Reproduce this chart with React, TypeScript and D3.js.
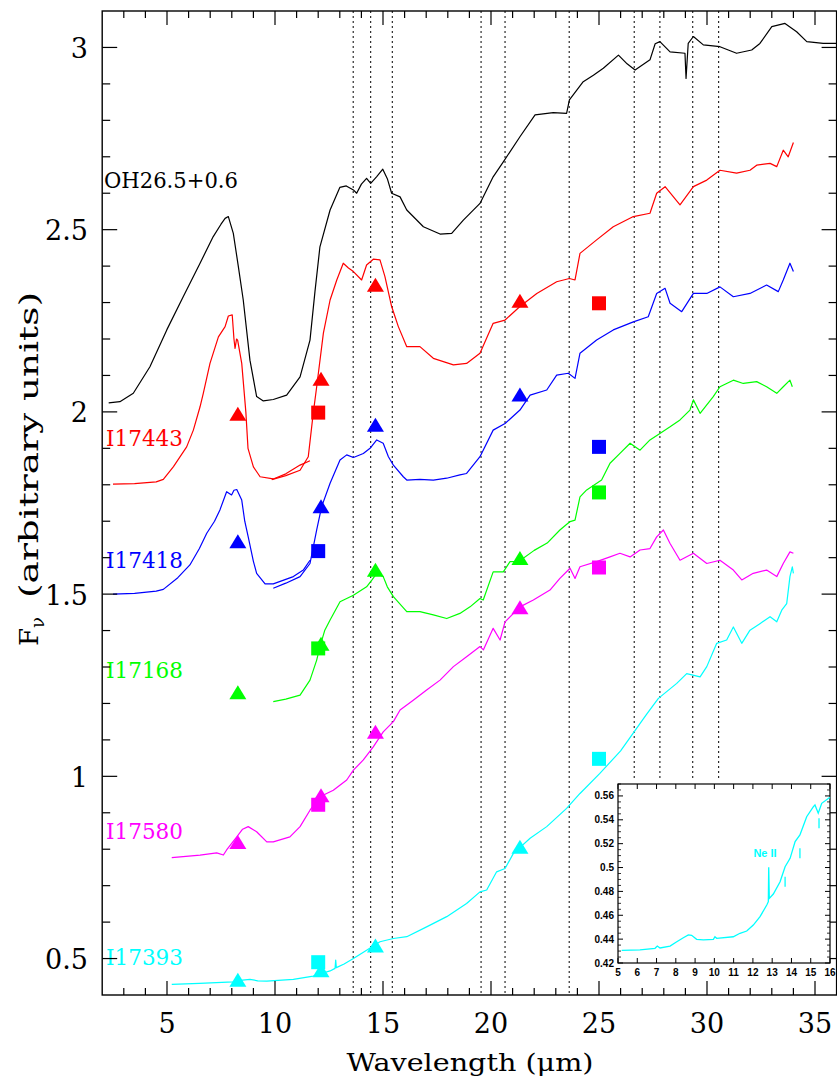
import React from "react";
import * as d3 from "d3";

// ---------- DATA ----------
const blackSpec: number[][] = [
  [2.3,2.025],[2.82,2.028],[3.44,2.051],[4.21,2.124],[4.99,2.225],[5.75,2.316],[6.53,2.408],[7.14,2.481],[7.5,2.515],[7.69,2.531],[7.84,2.536],[8.07,2.49],[8.3,2.4],[8.53,2.307],[8.84,2.142],[9.15,2.042],[9.46,2.03],[9.92,2.034],[10.54,2.046],[11.16,2.096],[11.62,2.197],[11.85,2.33],[12.08,2.453],[12.55,2.554],[13.0,2.616],[13.3,2.62],[13.63,2.609],[13.78,2.6],[14.0,2.625],[14.24,2.641],[14.43,2.627],[14.7,2.645],[14.99,2.666],[15.2,2.64],[15.4,2.6],[15.79,2.59],[16.1,2.554],[16.87,2.508],[17.64,2.488],[18.18,2.49],[18.72,2.526],[19.49,2.572],[20.1,2.645],[20.57,2.686],[21.34,2.755],[22.04,2.815],[22.88,2.821],[23.5,2.819],[23.63,2.856],[24.27,2.906],[24.74,2.924],[25.2,2.943],[25.9,2.979],[26.3,2.955],[26.67,2.938],[27.36,2.966],[27.6,3.01],[27.82,3.016],[28.29,2.988],[28.98,2.984],[29.03,2.915],[29.13,3.011],[29.37,3.03],[29.83,3.007],[30.6,3.002],[31.37,2.984],[32.07,2.993],[32.45,3.011],[33.0,3.057],[33.61,3.066],[34.15,3.043],[34.62,3.016],[35.38,3.011],[36.0,3.011]
];
const redShort: number[][] = [
  [2.5,1.802],[3.5,1.803],[4.5,1.808],[4.83,1.815],[5.3,1.85],[5.91,1.904],[6.22,1.95],[6.53,2.014],[6.68,2.051],[6.99,2.133],[7.38,2.206],[7.69,2.234],[7.84,2.263],[8.02,2.266],[8.1,2.2],[8.15,2.174],[8.22,2.2],[8.27,2.197],[8.46,2.133],[8.65,2.0],[8.75,1.9],[9.0,1.849],[9.31,1.822],[9.92,1.816],[10.5,1.83],[11.16,1.854],[11.62,1.866]
];
const redLong: number[][] = [
  [9.85,1.814],[10.5,1.825],[11.16,1.84],[11.54,1.877],[11.77,1.996],[11.93,2.069],[12.24,2.216],[12.55,2.307],[12.86,2.362],[13.16,2.408],[13.4,2.395],[13.63,2.385],[14.01,2.362],[14.24,2.403],[14.55,2.419],[14.86,2.417],[15.09,2.371],[15.4,2.289],[15.71,2.234],[16.1,2.179],[16.71,2.179],[17.33,2.147],[18.26,2.129],[18.87,2.133],[19.49,2.161],[20.1,2.243],[20.65,2.252],[21.34,2.289],[22.12,2.325],[23.04,2.357],[23.63,2.366],[23.89,2.362],[24.12,2.435],[24.89,2.472],[25.66,2.508],[26.59,2.536],[27.36,2.545],[27.67,2.6],[28.06,2.618],[28.75,2.568],[29.37,2.618],[29.99,2.636],[30.6,2.663],[31.37,2.655],[31.99,2.663],[32.3,2.677],[32.92,2.682],[33.23,2.673],[33.53,2.718],[33.76,2.7],[34.0,2.739]
];
const blueShort: number[][] = [
  [2.5,1.5],[3.5,1.502],[4.5,1.508],[4.83,1.513],[5.5,1.545],[6.06,1.58],[6.5,1.625],[6.84,1.667],[7.2,1.7],[7.45,1.731],[7.76,1.781],[7.99,1.772],[8.1,1.785],[8.23,1.787],[8.46,1.758],[8.6,1.7],[8.76,1.657],[9.0,1.59],[9.15,1.557],[9.54,1.528],[9.92,1.528],[10.85,1.548],[11.31,1.566],[11.62,1.593]
];
const blueLong: number[][] = [
  [9.92,1.516],[10.5,1.53],[11.16,1.548],[11.62,1.584],[11.93,1.676],[12.16,1.74],[12.55,1.804],[13.01,1.868],[13.32,1.882],[13.63,1.875],[14.09,1.886],[14.4,1.9],[14.71,1.923],[15.01,1.914],[15.25,1.877],[15.48,1.854],[15.94,1.822],[16.1,1.813],[16.71,1.815],[17.33,1.813],[17.95,1.818],[18.56,1.827],[18.87,1.831],[19.49,1.877],[20.1,1.95],[20.65,1.968],[21.34,2.005],[21.81,2.046],[22.58,2.06],[23.04,2.101],[23.58,2.106],[23.89,2.092],[24.12,2.161],[24.89,2.197],[25.66,2.225],[26.59,2.247],[27.28,2.261],[27.67,2.325],[28.06,2.339],[28.29,2.298],[28.83,2.275],[29.37,2.325],[29.99,2.325],[30.6,2.343],[31.22,2.316],[31.99,2.325],[32.76,2.348],[33.3,2.33],[33.53,2.362],[33.84,2.408],[34.0,2.385]
];
const greenSpec: number[][] = [
  [9.92,1.205],[10.5,1.212],[11.16,1.223],[11.62,1.264],[11.93,1.319],[12.08,1.356],[12.3,1.4],[12.55,1.429],[13.01,1.479],[13.63,1.497],[14.24,1.52],[14.5,1.54],[14.71,1.557],[15.01,1.548],[15.2,1.52],[15.48,1.493],[16.1,1.452],[16.71,1.452],[17.33,1.443],[17.95,1.433],[18.56,1.447],[19.03,1.465],[19.49,1.488],[19.64,1.484],[20.1,1.561],[20.57,1.561],[20.88,1.589],[21.3,1.59],[22.0,1.62],[22.6,1.64],[23.19,1.676],[23.66,1.699],[23.89,1.703],[24.12,1.767],[24.43,1.786],[25.12,1.813],[25.51,1.859],[25.97,1.886],[26.44,1.914],[26.9,1.895],[27.36,1.923],[27.82,1.941],[28.29,1.959],[28.75,1.978],[29.21,2.005],[29.37,2.033],[29.68,1.996],[30.29,2.042],[30.6,2.069],[31.22,2.087],[31.68,2.078],[32.3,2.083],[32.76,2.069],[33.23,2.051],[33.53,2.069],[33.84,2.087],[33.95,2.069]
];
const magentaSpec: number[][] = [
  [5.22,0.777],[6.53,0.784],[7.3,0.79],[7.61,0.784],[7.76,0.798],[8.23,0.834],[8.5,0.855],[8.76,0.862],[9.15,0.848],[9.62,0.82],[9.92,0.82],[10.69,0.834],[11.16,0.862],[11.62,0.907],[12.08,0.944],[12.7,0.962],[13.32,0.99],[13.63,1.017],[14.09,1.045],[14.55,1.081],[15.01,1.122],[15.48,1.15],[15.79,1.182],[16.4,1.209],[17.02,1.237],[17.64,1.264],[18.26,1.301],[18.87,1.328],[19.49,1.356],[19.65,1.347],[20.1,1.406],[20.42,1.374],[20.65,1.424],[21.34,1.465],[21.96,1.484],[22.73,1.511],[23.19,1.543],[23.66,1.571],[23.89,1.543],[24.12,1.575],[24.89,1.589],[25.51,1.602],[25.97,1.612],[26.44,1.602],[26.9,1.621],[27.36,1.625],[27.67,1.657],[27.98,1.676],[28.29,1.639],[28.75,1.593],[29.37,1.612],[29.99,1.584],[30.6,1.593],[31.22,1.566],[31.61,1.539],[32.14,1.557],[32.76,1.566],[33.23,1.548],[33.53,1.584],[33.84,1.616],[34.0,1.612]
];
const cyanSpec: number[][] = [
  [5.22,0.429],[6.5,0.432],[8.07,0.436],[8.5,0.441],[8.84,0.443],[9.2,0.439],[9.62,0.438],[10.85,0.443],[11.77,0.452],[12.55,0.466],[12.78,0.473],[12.81,0.496],[12.84,0.475],[13.2,0.485],[13.63,0.5],[14.24,0.523],[14.86,0.546],[15.48,0.555],[16.1,0.56],[17.02,0.587],[17.95,0.615],[18.87,0.651],[19.49,0.683],[19.8,0.688],[20.26,0.738],[20.65,0.747],[21.03,0.788],[21.81,0.83],[22.58,0.862],[23.5,0.912],[24.12,0.953],[25.04,1.008],[26.0,1.07],[26.6,1.12],[27.2,1.17],[27.75,1.214],[28.6,1.255],[29.06,1.282],[29.68,1.273],[29.99,1.301],[30.45,1.365],[30.91,1.374],[31.22,1.41],[31.61,1.365],[31.99,1.401],[32.45,1.419],[32.92,1.438],[33.23,1.424],[33.46,1.456],[33.69,1.474],[33.84,1.548],[33.95,1.575],[34.0,1.557]
];

// photometry (MSX triangles, IRAS squares)
const msxBands = [8.28, 12.13, 14.65, 21.34];
const irasBands = [12, 25];
const msxRed = [1.995, 2.091, 2.349, 2.305];
const irasRed = [1.998, 2.298];
const msxBlue = [1.645, 1.741, 1.965, 2.048];
const irasBlue = [1.618, 1.904];
const msxGreen = [1.231, 1.364, 1.567, 1.599];
const irasGreen = [1.351, 1.779];
const msxMagenta = [0.82, 0.948, 1.122, 1.464];
const irasMagenta = [0.922, 1.573];
const msxCyan = [0.442, 0.468, 0.536, 0.807];
const irasCyan = [0.49, 1.048];

const featureLines = [13.62, 14.43, 15.43, 19.54, 20.65, 23.62, 26.63, 27.82, 29.34, 30.54];
const xTickLabels = [5, 10, 15, 20, 25, 30, 35];
const yTickLabels = [0.5, 1, 1.5, 2, 2.5, 3];
const seriesNames = ["OH26.5+0.6", "I17443", "I17418", "I17168", "I17580", "I17393"];

// inset
const insetSpec: number[][] = [
  [5.19,0.4306],[6.14,0.431],[6.92,0.4323],[7.04,0.4342],[7.18,0.4326],[7.7,0.4342],[8.05,0.4378],[8.39,0.4412],[8.65,0.4435],[8.82,0.4432],[9.08,0.4398],[9.43,0.4393],[9.95,0.4398],[10.03,0.442],[10.12,0.4407],[10.98,0.442],[11.33,0.4449],[11.68,0.4468],[12.02,0.4518],[12.37,0.4588],[12.72,0.4686],[12.8,0.4714],[12.82,0.5002],[12.85,0.4742],[13.06,0.4778],[13.41,0.4881],[13.67,0.5007],[13.93,0.5077],[14.19,0.5217],[14.44,0.5273],[14.79,0.5426],[15.14,0.551],[15.22,0.5524],[15.39,0.5455],[15.57,0.5538],[16.0,0.5589]
];
const insetMarks: number[][] = [[13.67,0.4839,0.4923],[14.44,0.5077,0.5161],[15.43,0.5329,0.5412]];
const insetXTicks = [5,6,7,8,9,10,11,12,13,14,15,16];
const insetYTicks = [0.42,0.44,0.46,0.48,0.5,0.52,0.54,0.56];

// ---------- COMPONENT ----------
export default function App() {
  const L = 102.2, R = 836.6, T = 11, B = 995;
  const x = d3.scaleLinear().domain([2, 36]).range([L, R]);
  const y = d3.scaleLinear().domain([0.4, 3.1]).range([B, T]);
  const line = d3.line<number[]>().x(d => x(d[0])).y(d => y(d[1]));

  const series = [
    { name: seriesNames[0], color: "#000000", segs: [blackSpec], msx: [] as number[], iras: [] as number[], ly: 188 },
    { name: seriesNames[1], color: "#ff0000", segs: [redShort, redLong], msx: msxRed, iras: irasRed, ly: 445.5 },
    { name: seriesNames[2], color: "#0000ff", segs: [blueShort, blueLong], msx: msxBlue, iras: irasBlue, ly: 567.5 },
    { name: seriesNames[3], color: "#00ff00", segs: [greenSpec], msx: msxGreen, iras: irasGreen, ly: 678 },
    { name: seriesNames[4], color: "#ff00ff", segs: [magentaSpec], msx: msxMagenta, iras: irasMagenta, ly: 839 },
    { name: seriesNames[5], color: "#00ffff", segs: [cyanSpec], msx: msxCyan, iras: irasCyan, ly: 965 },
  ];

  const minorX = d3.range(3, 36).filter(v => v % 5 !== 0);
  const minorY = d3.range(5, 31).filter(i => i % 5 !== 0).map(i => i / 10);

  // inset scales
  const IL = 618, IR = 830, IT = 784, IB = 963;
  const ix = d3.scaleLinear().domain([5, 16]).range([IL, IR]);
  const iy = d3.scaleLinear().domain([0.42, 0.57]).range([IB, IT]);
  const iline = d3.line<number[]>().x(d => ix(d[0])).y(d => iy(d[1]));
  const iMinorY = d3.range(84, 115).filter(i => i % 4 !== 0).map(i => i * 0.005);

  const serif = "'DejaVu Serif', serif";
  const sans = "'Liberation Sans', Arial, sans-serif";

  const tri = (cx: number, cy: number) => `M${cx - 8.5},${cy + 7}L${cx},${cy - 7}L${cx + 8.5},${cy + 7}Z`;

  return (
    <svg width={837} height={1076} style={{ position: "absolute", left: 0, top: 0, background: "#fff" }}
      xmlns="http://www.w3.org/2000/svg">
      <rect x={0} y={0} width={837} height={1076} fill="#fff" />

      {/* feature lines */}
      {featureLines.map((f, i) => (
        <line key={"f" + i} x1={x(f)} x2={x(f)} y1={T} y2={x(f) > IL ? 779 : B}
          stroke="#000" strokeWidth={1} strokeDasharray="2,3" />
      ))}

      {/* spectra */}
      {series.map((s, si) => (
        <g key={"s" + si}>
          {s.segs.map((seg, k) => (
            <path key={k} d={line(seg) || ""} fill="none" stroke={s.color} strokeWidth={1.2} strokeLinejoin="round" />
          ))}
        </g>
      ))}

      {/* photometry */}
      {series.map((s, si) => (
        <g key={"m" + si} fill={s.color}>
          {s.msx.map((v, k) => <path key={"t" + k} d={tri(x(msxBands[k]), y(v))} />)}
          {s.iras.map((v, k) => <rect key={"q" + k} x={x(irasBands[k]) - 7} y={y(v) - 7} width={14} height={14} />)}
        </g>
      ))}

      {/* series labels */}
      {series.map((s, si) => (
        <text key={"l" + si} x={si === 0 ? 104 : 106} y={s.ly} fill={s.color} fontFamily={serif} fontSize={22}
          textLength={si === 0 ? 134 : 77} lengthAdjust="spacingAndGlyphs">{s.name}</text>
      ))}

      {/* frame & ticks */}
      <rect x={L} y={T} width={R - L} height={B - T} fill="none" stroke="#000" strokeWidth={1.4} />
      {xTickLabels.map(v => (
        <g key={"xt" + v}>
          <line x1={x(v)} x2={x(v)} y1={B} y2={B - 14} stroke="#000" strokeWidth={1.2} />
          <line x1={x(v)} x2={x(v)} y1={T} y2={T + 14} stroke="#000" strokeWidth={1.2} />
          <text x={x(v)} y={1033} textAnchor="middle" fontFamily={serif} fontSize={27}>{v}</text>
        </g>
      ))}
      {minorX.map(v => (
        <g key={"xm" + v}>
          <line x1={x(v)} x2={x(v)} y1={B} y2={B - 7} stroke="#000" strokeWidth={1.2} />
          <line x1={x(v)} x2={x(v)} y1={T} y2={T + 7} stroke="#000" strokeWidth={1.2} />
        </g>
      ))}
      {yTickLabels.map(v => (
        <g key={"yt" + v}>
          <line x1={L} x2={L + 15} y1={y(v)} y2={y(v)} stroke="#000" strokeWidth={1.2} />
          <line x1={R} x2={R - 15} y1={y(v)} y2={y(v)} stroke="#000" strokeWidth={1.2} />
          <text x={88} y={y(v) + 10.5} textAnchor="end" fontFamily={serif} fontSize={27}>{v}</text>
        </g>
      ))}
      {minorY.map(v => (
        <g key={"ym" + v}>
          <line x1={L} x2={L + 8} y1={y(v)} y2={y(v)} stroke="#000" strokeWidth={1.2} />
          <line x1={R} x2={R - 8} y1={y(v)} y2={y(v)} stroke="#000" strokeWidth={1.2} />
        </g>
      ))}

      {/* axis titles */}
      <text x={470} y={1071} textAnchor="middle" fontFamily={serif} fontSize={25}
        textLength={247} lengthAdjust="spacingAndGlyphs">Wavelength (μm)</text>
      <g transform="translate(38,646) rotate(-90)">
        <text x={0} y={0} fontFamily={serif} fontSize={26}>
          F<tspan fontSize={18} dy={6}>ν</tspan>
        </text>
        <text x={48} y={0} fontFamily={serif} fontSize={26} textLength={306} lengthAdjust="spacingAndGlyphs">(arbitrary units)</text>
      </g>

      {/* inset */}
      <rect x={IL} y={IT} width={IR - IL} height={IB - IT} fill="#fff" stroke="#000" strokeWidth={1.2} />
      <path d={iline(insetSpec) || ""} fill="none" stroke="#00ffff" strokeWidth={1.3} />
      {insetMarks.map((m, i) => (
        <line key={"im" + i} x1={ix(m[0])} x2={ix(m[0])} y1={iy(m[1])} y2={iy(m[2])} stroke="#00ffff" strokeWidth={1.3} />
      ))}
      <text x={765} y={857} textAnchor="middle" fill="#00ffff" fontFamily={sans} fontWeight="bold" fontSize={11}>Ne II</text>
      {insetXTicks.map(v => (
        <g key={"ixt" + v}>
          <line x1={ix(v)} x2={ix(v)} y1={IB} y2={IB - 5} stroke="#000" strokeWidth={1} />
          <line x1={ix(v)} x2={ix(v)} y1={IT} y2={IT + 5} stroke="#000" strokeWidth={1} />
          <text x={ix(v)} y={976} textAnchor="middle" fontFamily={sans} fontWeight="bold" fontSize={10}>{v}</text>
        </g>
      ))}
      {insetYTicks.map(v => (
        <g key={"iyt" + v}>
          <line x1={IL} x2={IL + 5} y1={iy(v)} y2={iy(v)} stroke="#000" strokeWidth={1} />
          <line x1={IR} x2={IR - 5} y1={iy(v)} y2={iy(v)} stroke="#000" strokeWidth={1} />
          <text x={614} y={iy(v) + 3.5} textAnchor="end" fontFamily={sans} fontWeight="bold" fontSize={10}>{String(v)}</text>
        </g>
      ))}
      {iMinorY.map((v, i) => (
        <g key={"iym" + i}>
          <line x1={IL} x2={IL + 3} y1={iy(v)} y2={iy(v)} stroke="#000" strokeWidth={0.8} />
          <line x1={IR} x2={IR - 3} y1={iy(v)} y2={iy(v)} stroke="#000" strokeWidth={0.8} />
        </g>
      ))}
    </svg>
  );
}
